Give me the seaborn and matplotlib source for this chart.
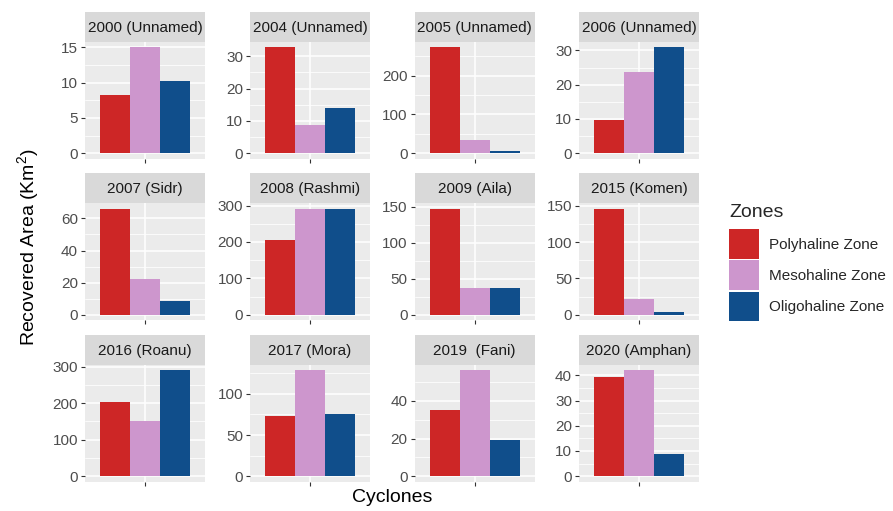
import matplotlib
matplotlib.use("Agg")
import matplotlib.pyplot as plt
from matplotlib.patches import Patch
from matplotlib.ticker import MultipleLocator
import seaborn as sns
import pandas as pd

# Recovered mangrove area (km^2) by salinity zone after each cyclone
cyclones = ["2000 (Unnamed)", "2004 (Unnamed)", "2005 (Unnamed)", "2006 (Unnamed)",
            "2007 (Sidr)", "2008 (Rashmi)", "2009 (Aila)", "2015 (Komen)",
            "2016 (Roanu)", "2017 (Mora)", "2019  (Fani)", "2020 (Amphan)"]
zones = ["Polyhaline Zone", "Mesohaline Zone", "Oligohaline Zone"]
polyhaline = [8.3, 32.8, 273, 9.7, 66.0, 205, 147, 146, 204, 73.5, 35.2, 39.5]
mesohaline = [15.0, 8.8, 34, 23.8, 22.5, 291, 36.6, 21.6, 152, 128.6, 56.3, 42.0]
oligohaline = [10.2, 14.0, 5, 30.9, 8.8, 291, 37.0, 3.7, 290, 75.1, 19.5, 8.9]
tick_step = [5, 10, 100, 10, 20, 100, 50, 50, 100, 50, 20, 10]

zone_colors = ["#CD2626", "#CD96CD", "#104E8B"]

records = []
for i, name in enumerate(cyclones):
    for zone, series in zip(zones, [polyhaline, mesohaline, oligohaline]):
        records.append({"cyclone": name, "zone": zone, "area": series[i], "x": ""})
df = pd.DataFrame(records)

sns.set_style("white")
plt.rcParams["font.family"] = ["Liberation Sans", "DejaVu Sans"]
plt.rcParams["mathtext.fontset"] = "custom"
plt.rcParams["mathtext.rm"] = "Liberation Sans"
plt.rcParams["mathtext.it"] = "Liberation Sans:italic"

W, H = 893, 511
fig = plt.figure(figsize=(W / 100, H / 100), dpi=100)
fig.patch.set_facecolor("white")

col_left = [85, 250, 414.5, 579]
panel_w = 120
row_top = [42, 203.5, 365]
panel_h = 116.5
strip_h = 30

for i, name in enumerate(cyclones):
    r, c = divmod(i, 4)
    left = col_left[c]
    top = row_top[r]
    ax = fig.add_axes([left / W, 1 - (top + panel_h) / H, panel_w / W, panel_h / H])
    sub = df[df["cyclone"] == name]
    sns.barplot(data=sub, x="x", y="area", hue="zone", hue_order=zones,
                palette=zone_colors, width=0.9, saturation=1, errorbar=None,
                legend=False, ax=ax, linewidth=0)
    ymax = sub["area"].max()
    ax.set_xlim(-0.6, 0.6)
    ax.set_ylim(-0.05 * ymax, 1.05 * ymax)
    ax.yaxis.set_major_locator(MultipleLocator(tick_step[i]))
    ax.yaxis.set_minor_locator(MultipleLocator(tick_step[i] / 2))
    ax.set_xticks([0])
    ax.set_xticklabels([""])
    ax.set_facecolor("#EBEBEB")
    ax.set_axisbelow(True)
    ax.grid(which="major", axis="both", color="white", linewidth=1.1)
    ax.grid(which="minor", axis="y", color="white", linewidth=0.55)
    for s in ax.spines.values():
        s.set_visible(False)
    ax.tick_params(axis="both", which="major", length=3, width=0.8, color="#333333",
                   labelsize=11, labelcolor="#4D4D4D", pad=2, left=True, bottom=True)
    ax.tick_params(axis="y", which="minor", length=0)
    ax.set_xlabel("")
    ax.set_ylabel("")

    sax = fig.add_axes([left / W, 1 - top / H, panel_w / W, strip_h / H])
    sax.set_facecolor("#D9D9D9")
    sax.set_xticks([])
    sax.set_yticks([])
    for s in sax.spines.values():
        s.set_visible(False)
    sax.text(0.5, 0.48, name, ha="center", va="center", fontsize=11,
             color="#1A1A1A", transform=sax.transAxes)

fig.text(392 / W, 1 - 498 / H, "Cyclones", ha="center", va="center",
         fontsize=14, color="black")
fig.text(28 / W, 1 - 247 / H, "Recovered Area (Km$^2$)", ha="center", va="center",
         rotation=90, fontsize=14, color="black")

handles = [Patch(facecolor=col, edgecolor="none", label=z) for z, col in zip(zones, zone_colors)]
leg = fig.legend(handles=handles, title="Zones", loc="upper left",
                 bbox_to_anchor=(729 / W, 1 - 204 / H), frameon=False,
                 fontsize=11, title_fontsize=14, handlelength=1.95, handleheight=2.6,
                 labelspacing=0.1, handletextpad=0.7, borderaxespad=0, borderpad=0)
leg._legend_box.align = "left"
leg._legend_box.sep = 6

fig.savefig("out.png", dpi=100, facecolor="white")
